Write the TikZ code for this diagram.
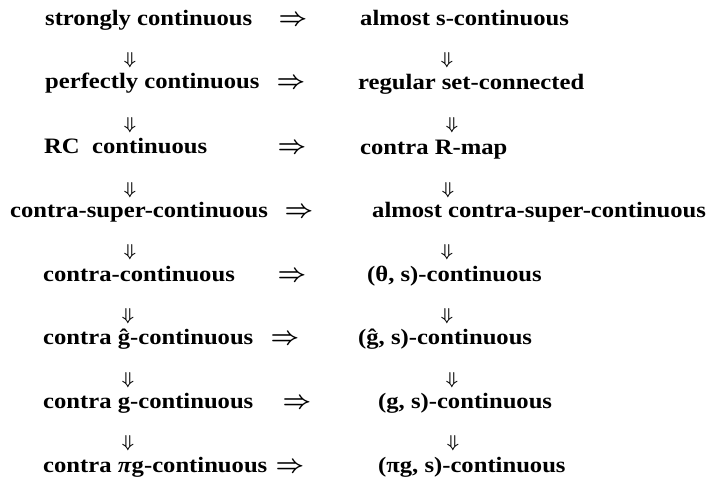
\documentclass[tikz,border=0pt]{standalone}
\usepackage{amsmath}
\usepackage{fontspec}
\setmainfont[FakeStretch=1.12]{Liberation Serif}
\usetikzlibrary{positioning}
\tikzset{
  prop/.style={anchor=base west, inner sep=0pt,
    font=\bfseries\fontsize{22}{24}\selectfont, text=black},
  imp/.style={anchor=base, inner sep=0pt, font=\fontsize{24}{24}\selectfont},
  dimp/.style={anchor=center, inner sep=0pt, font=\fontsize{19}{19}\selectfont},
}
\newcommand{\himp}{$\boldsymbol{\Rightarrow}$}
\newcommand{\vimp}{$\boldsymbol{\Downarrow}$}

\begin{document}
\begin{tikzpicture}[x=1pt, y=-1pt]
  \useasboundingbox[fill=white] (0,0) rectangle (710,479);

  % left column
  \node[prop] (l1) at (45,25)  {strongly continuous};
  \node[prop] (l2) at (45,88)  {perfectly continuous};
  \node[prop] (l3) at (44,153) {RC\ \ continuous};
  \node[prop] (l4) at (10,217) {contra-super-continuous};
  \node[prop] (l5) at (43,281) {contra-continuous};
  \node[prop] (l6) at (43,344) {contra ĝ-continuous};
  \node[prop] (l7) at (43,408) {contra g-continuous};
  \node[prop] (l8) at (43,472) {contra \textit{π}g-continuous};

  % right column
  \node[prop] (r1) at (360,25)  {almost s-continuous};
  \node[prop] (r2) at (358,89)  {regular set-connected};
  \node[prop] (r3) at (360,154) {contra R-map};
  \node[prop] (r4) at (372,217) {almost contra-super-continuous};
  \node[prop] (r5) at (367,281) {(θ, s)-continuous};
  \node[prop] (r6) at (358,344) {(ĝ, s)-continuous};
  \node[prop] (r7) at (378,408) {(g, s)-continuous};
  \node[prop] (r8) at (378,472) {(πg, s)-continuous};

  % horizontal implications
  \node[imp] (h1) at (293,25)  {\himp};
  \node[imp] (h2) at (291,88)  {\himp};
  \node[imp] (h3) at (292,153) {\himp};
  \node[imp] (h4) at (299,217) {\himp};
  \node[imp] (h5) at (292,281) {\himp};
  \node[imp] (h6) at (285,344) {\himp};
  \node[imp] (h7) at (297,408) {\himp};
  \node[imp] (h8) at (290,472) {\himp};

  % vertical implications
  \node[dimp] (dl1) at (130,60)  {\vimp};
  \node[dimp] (dl2) at (130,125) {\vimp};
  \node[dimp] (dl3) at (130,190) {\vimp};
  \node[dimp] (dl4) at (130,252) {\vimp};
  \node[dimp] (dl5) at (128,316) {\vimp};
  \node[dimp] (dl6) at (128,380) {\vimp};
  \node[dimp] (dl7) at (128,443) {\vimp};

  \node[dimp] (dr1) at (447,60)  {\vimp};
  \node[dimp] (dr2) at (452,125) {\vimp};
  \node[dimp] (dr3) at (448,190) {\vimp};
  \node[dimp] (dr4) at (447,252) {\vimp};
  \node[dimp] (dr5) at (447,316) {\vimp};
  \node[dimp] (dr6) at (452,380) {\vimp};
  \node[dimp] (dr7) at (453,443) {\vimp};
\end{tikzpicture}
\end{document}
